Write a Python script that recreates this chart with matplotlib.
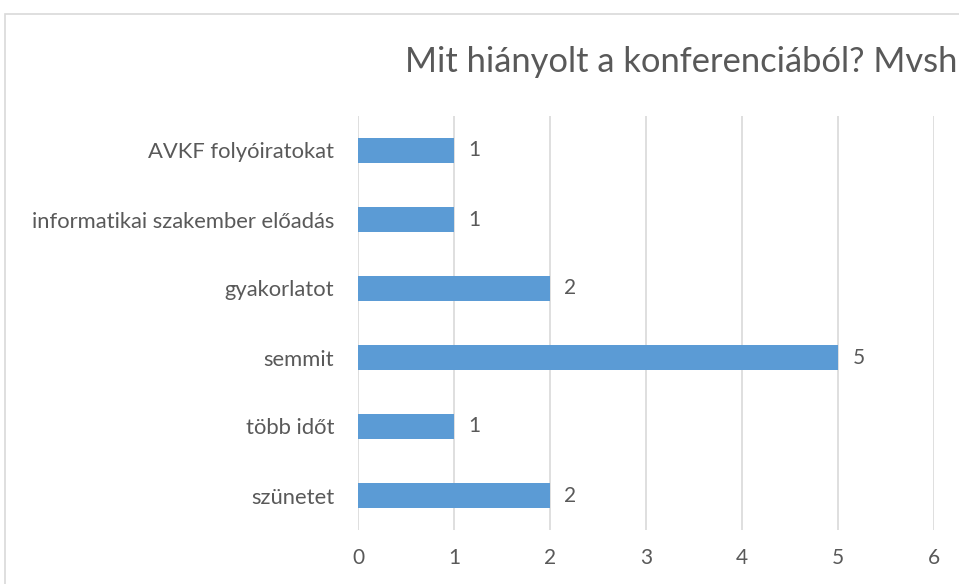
import matplotlib
matplotlib.use("Agg")
import matplotlib.pyplot as plt
from matplotlib.patches import Rectangle

# data (top to bottom)
categories = ["AVKF folyóiratokat", "informatikai szakember előadás", "gyakorlatot",
              "semmit", "több időt", "szünetet"]
counts = [1, 1, 2, 5, 1, 2]
x_ticks = [0, 1, 2, 3, 4, 5, 6]
title = "Mit hiányolt a konferenciából? Mvsh"

bar_color = "#5B9BD5"
text_color = "#595959"
grid_color = "#D9D9D9"

plt.rcParams["font.family"] = ["Lato", "DejaVu Sans"]

W, H = 959, 584
fig = plt.figure(figsize=(W / 100, H / 100), dpi=100)

# chart area border (cropped on the right and bottom)
fig.patches.append(Rectangle((5 / W, -0.1), 1.2, (H - 14) / H + 0.1,
                             transform=fig.transFigure, fill=False,
                             edgecolor="#D9D9D9", linewidth=1.2))

ax = fig.add_axes([358 / W, 54 / H, 576 / W, 414 / H])
ypos = list(range(len(categories)))
ax.barh(ypos, counts, height=0.35, color=bar_color, zorder=3)
ax.set_ylim(len(categories) - 0.5, -0.5)
ax.set_xlim(x_ticks[0], x_ticks[-1])
ax.set_xticks(x_ticks)
ax.set_yticks(ypos)
ax.set_yticklabels(categories, fontsize=15.8)
ax.grid(axis="x", color=grid_color, linewidth=1.2, zorder=0)
for s in ax.spines.values():
    s.set_visible(False)
ax.tick_params(axis="both", length=0, labelcolor=text_color)
ax.tick_params(axis="x", pad=13, labelsize=15)
ax.tick_params(axis="y", pad=17)

for y, v in zip(ypos, counts):
    ax.text(v + 0.15, y, str(v), va="center", ha="left", fontsize=15,
            color=text_color)

fig.text(405 / W, 1 - 62 / H, title, ha="left", va="center", fontsize=24.8,
         color=text_color)

fig.savefig("out.png", dpi=100)
